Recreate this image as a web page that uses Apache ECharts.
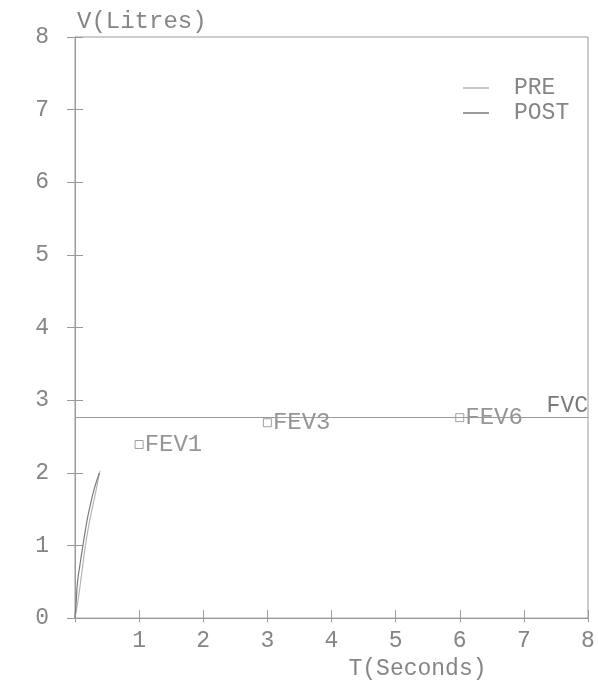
<!DOCTYPE html>
<html>
<head>
<meta charset="utf-8">
<script src="https://cdn.jsdelivr.net/npm/echarts@6/dist/echarts.min.js"></script>
<style>html,body{margin:0;padding:0;background:#fff;}#c{width:598px;height:685px;}</style>
</head>
<body>
<div id="c"></div>
<script>
// Data
var xTicks = [0, 1, 2, 3, 4, 5, 6, 7, 8];
var yTicks = [0, 1, 2, 3, 4, 5, 6, 7, 8];
var preCurve = [[0,0],[0.04,0.2],[0.08,0.45],[0.12,0.72],[0.16,0.98],[0.2,1.2],[0.24,1.39],[0.28,1.56],[0.32,1.72],[0.36,1.9],[0.39,2.03]];
var postCurve = [[0,0],[0.02,0.25],[0.04,0.5],[0.08,0.75],[0.12,0.98],[0.16,1.2],[0.2,1.4],[0.25,1.6],[0.3,1.78],[0.35,1.92],[0.38,2.0]];
var fevNames = ['FEV1', 'FEV3', 'FEV6'];
var fevTimes = [1, 3, 6];
var fevValues = [2.39, 2.69, 2.76];
var fvcValue = 2.76;

var FONT = 'Liberation Mono';
var TXT = '#858585';
var AX = '#9a9a9a';

var chart = echarts.init(document.getElementById('c'));
var fevData = fevTimes.map(function (t, i) { return { value: [t, fevValues[i]], name: fevNames[i] }; });

var baseX = {
  type: 'value', min: xTicks[0], max: xTicks[xTicks.length - 1], interval: 1,
  position: 'bottom', splitLine: { show: false }
};
var baseY = {
  type: 'value', min: yTicks[0], max: yTicks[yTicks.length - 1], interval: 1,
  position: 'left', splitLine: { show: false }
};

chart.setOption({
  animation: false,
  backgroundColor: '#fff',
  grid: { left: 75, right: 10, top: 37, bottom: 60, show: true, borderColor: AX, borderWidth: 1, backgroundColor: 'transparent' },
  legend: {
    orient: 'vertical', left: 458, top: 71, itemWidth: 26, itemHeight: 1.5, itemGap: 1,
    icon: 'rect',
    data: [{ name: 'PRE' }, { name: 'POST' }],
    textStyle: { fontFamily: FONT, fontSize: 23, color: TXT, padding: [0, 0, 0, 20], lineHeight: 24 }
  },
  xAxis: [
    Object.assign({}, baseX, {
      axisLine: { show: true, lineStyle: { color: AX, width: 1 } },
      axisTick: { show: true, inside: false, length: 4, lineStyle: { color: AX } },
      axisLabel: { show: true, margin: 11, fontFamily: FONT, fontSize: 23, color: TXT,
        formatter: function (v) { return v === 0 ? '' : String(v); } },
      name: 'T(Seconds)', nameLocation: 'middle', nameGap: 48,
      nameTextStyle: { fontFamily: FONT, fontSize: 23, color: TXT, align: 'center', verticalAlign: 'middle', padding: [0, 0, 0, 172] }
    }),
    Object.assign({}, baseX, {
      axisLine: { show: false },
      axisTick: { show: true, inside: true, length: 8, lineStyle: { color: AX } },
      axisLabel: { show: false }
    })
  ],
  yAxis: [
    Object.assign({}, baseY, {
      axisLine: { show: true, lineStyle: { color: AX, width: 1 } },
      axisTick: { show: true, inside: false, length: 8, lineStyle: { color: AX } },
      axisLabel: { show: true, margin: 26, fontFamily: FONT, fontSize: 23, color: TXT },
      name: 'V(Litres)', nameLocation: 'end', nameGap: 3,
      nameTextStyle: { fontFamily: FONT, fontSize: 24, color: TXT, align: 'left', verticalAlign: 'bottom', padding: [0, 0, 0, 2] }
    }),
    Object.assign({}, baseY, {
      axisLine: { show: false },
      axisTick: { show: true, inside: true, length: 8, lineStyle: { color: AX } },
      axisLabel: { show: false }
    })
  ],
  series: [
    {
      name: 'PRE', type: 'line', data: preCurve, symbol: 'none', smooth: true,
      lineStyle: { color: '#b5b5b5', width: 1.2 }, itemStyle: { color: '#b5b5b5' }
    },
    {
      name: 'POST', type: 'line', data: postCurve, symbol: 'none', smooth: true,
      lineStyle: { color: '#7a7a7a', width: 1.2 }, itemStyle: { color: '#7a7a7a' }
    },
    {
      name: 'FVC', type: 'line', data: [], symbol: 'none',
      markLine: {
        silent: true, symbol: 'none',
        lineStyle: { color: AX, type: 'solid', width: 1 },
        label: { show: true, position: 'insideEndTop', formatter: 'FVC', distance: [0, 0],
          fontFamily: FONT, fontSize: 23, color: '#7a7a7a' },
        data: [{ yAxis: fvcValue }]
      }
    },
    {
      name: 'FEV', type: 'scatter', data: fevData, symbol: 'rect', symbolSize: 8,
      itemStyle: { color: '#fff', borderColor: '#8a8a8a', borderWidth: 1 },
      label: { show: true, position: 'right', distance: 1, formatter: '{b}',
        fontFamily: FONT, fontSize: 24, color: '#7a7a7a' }
    }
  ]
});
</script>
</body>
</html>
